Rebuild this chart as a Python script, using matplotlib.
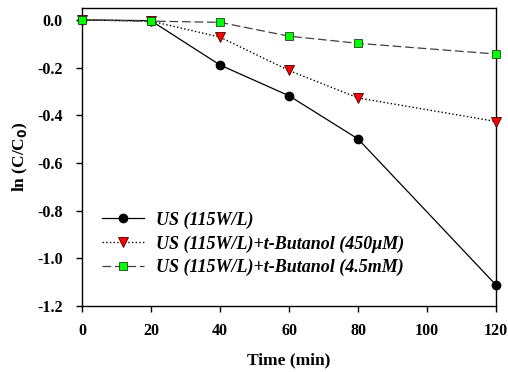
import matplotlib
matplotlib.use("Agg")
import matplotlib.pyplot as plt

plt.rcParams['font.family'] = ['Liberation Serif', 'DejaVu Serif']
plt.rcParams['font.weight'] = 'bold'

time = [0, 20, 40, 60, 80, 120]
us_only = [0.0, -0.003, -0.189, -0.318, -0.499, -1.112]
us_tbu_450 = [0.0, -0.005, -0.072, -0.212, -0.327, -0.426]
us_tbu_45 = [0.0, -0.005, -0.010, -0.068, -0.098, -0.143]

labels = ["US (115W/L)",
          "US (115W/L)+t-Butanol (450\u03bcM)",
          "US (115W/L)+t-Butanol (4.5mM)"]
x_ticks = [0, 20, 40, 60, 80, 100, 120]
y_ticks = [0.0, -0.2, -0.4, -0.6, -0.8, -1.0, -1.2]

fig = plt.figure(figsize=(5.08, 3.72), dpi=100)
ax = fig.add_axes([0.1614, 0.1774, 0.815, 0.801])

ax.plot(time, us_only, '-', color='black', lw=0.9, marker='o', ms=6,
        mfc='black', mec='black', label=labels[0], clip_on=False, zorder=3)
ax.plot(time, us_tbu_450, ':', color='black', lw=1.0, marker='v', ms=6.5,
        mfc='red', mec='#400000', mew=0.6, label=labels[1], clip_on=False, zorder=3)
ax.plot(time, us_tbu_45, '--', color='#404040', lw=0.9, dashes=(7, 3), marker='s', ms=5.5,
        mfc='#00ff00', mec='#204020', mew=0.6, label=labels[2], clip_on=False, zorder=3)

ax.set_xlim(0, 120)
ax.set_ylim(-1.2, 0.05)
ax.set_xticks(x_ticks)
ax.set_yticks(y_ticks)
ax.set_yticklabels([f"{v:.1f}" for v in y_ticks])
ax.tick_params(direction='out', length=4, width=1, labelsize=11.5, top=False, right=False)
ax.tick_params(axis='y', pad=10)
ax.tick_params(axis='x', pad=8)
for s in ax.spines.values():
    s.set_linewidth(1.0)

ax.set_xlabel("Time (min)", fontsize=12.5, fontweight='bold', labelpad=10)
ax.set_ylabel("ln (C/C$_\\mathbf{0}$)", fontsize=12.5, fontweight='bold', labelpad=5)

leg = ax.legend(loc='lower left', bbox_to_anchor=(0.01, 0.045), frameon=False,
                prop={'family': 'Liberation Serif', 'weight': 'bold', 'style': 'italic', 'size': 13},
                handlelength=2.3, handletextpad=0.65, labelspacing=0.36)

fig.savefig("out.png", dpi=100)
